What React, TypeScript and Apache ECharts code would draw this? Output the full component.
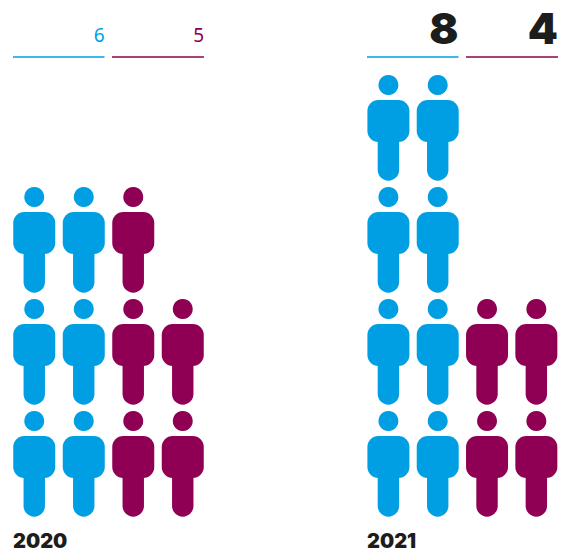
import React, { useEffect, useRef } from "react";
import * as echarts from "echarts";

const years = ["2020", "2021"];
const blueCounts = [6, 8];
const purpleCounts = [5, 4];

const BLUE = "#009fe3";
const PURPLE = "#8f0054";
const INK = "#1d1d1b";
const PANEL_LEFT = [9.5, 363.75];
const SLOT_W = 49.5;
const SLOT_H = 112;
const COLS = 4;
const ROWS = 4;
const BOTTOM_Y = 520;

type Cell = [number, number];
function cells(count: number, firstCol: number): Cell[] {
  const out: Cell[] = [];
  for (let i = 0; i < count; i++) {
    out.push([firstCol + (i % 2) + 0.5, Math.floor(i / 2) + 0.5]);
  }
  return out;
}

function person(color: string) {
  return (_: any, api: any) => {
    const [cx, cy] = api.coord([api.value(0), api.value(1)]);
    return {
      type: "group",
      x: cx,
      y: cy,
      children: [
        { type: "circle", shape: { cx: 0, cy: -43, r: 10 }, style: { fill: color } },
        { type: "rect", shape: { x: -21, y: -28, width: 42, height: 42, r: 11 }, style: { fill: color } },
        {
          type: "rect",
          shape: { x: -10.7, y: 0, width: 21.4, height: 52.7, r: [0, 0, 10.7, 10.7] },
          style: { fill: color },
        },
      ],
    };
  };
}

function App() {
  const ref = useRef<HTMLDivElement>(null);
  useEffect(() => {
    const chart = echarts.init(ref.current!, undefined, { renderer: "svg" });
    const grid = PANEL_LEFT.map((left) => ({
      left,
      top: BOTTOM_Y - ROWS * SLOT_H,
      width: COLS * SLOT_W,
      height: ROWS * SLOT_H,
    }));
    const axisBase = { type: "value" as const, min: 0, show: false };
    const series: any[] = [];
    years.forEach((y, i) => {
      series.push({
        type: "custom",
        name: `${y} blue`,
        xAxisIndex: i,
        yAxisIndex: i,
        renderItem: person(BLUE),
        data: cells(blueCounts[i], 0),
        clip: false,
      });
      series.push({
        type: "custom",
        name: `${y} purple`,
        xAxisIndex: i,
        yAxisIndex: i,
        renderItem: person(PURPLE),
        data: cells(purpleCounts[i], 2),
        clip: false,
      });
    });
    const graphic: any[] = [];
    const rule = (x1: number, x2: number, stroke: string) => ({
      type: "line",
      shape: { x1, y1: 57, x2, y2: 57 },
      style: { stroke, lineWidth: 1.4 },
    });
    const num = (x: number, value: number, i: number, color: string) =>
      i === 0
        ? {
            type: "text",
            x,
            y: 35,
            style: {
              text: String(value),
              fill: color,
              align: "right",
              verticalAlign: "middle",
              font: '400 19px "Noto Sans"',
            },
          }
        : {
            type: "text",
            x,
            y: 28,
            style: {
              text: String(value),
              fill: INK,
              align: "right",
              verticalAlign: "middle",
              font: '900 43px "Inter"',
            },
          };
    const offs = [13, 367];
    years.forEach((y, i) => {
      const l = offs[i];
      graphic.push(rule(l, l + 91.5, BLUE), rule(l + 99, l + 191, PURPLE));
      graphic.push(num(l + 91.5, blueCounts[i], i, BLUE), num(l + 191, purpleCounts[i], i, PURPLE));
      graphic.push({
        type: "text",
        x: l,
        y: 541,
        style: {
          text: y,
          fill: INK,
          align: "left",
          verticalAlign: "middle",
          font: '900 20px "Inter"',
        },
      });
    });
    chart.setOption({
      animation: false,
      backgroundColor: "#ffffff",
      grid,
      xAxis: years.map((_, i) => ({ ...axisBase, max: COLS, gridIndex: i })),
      yAxis: years.map((_, i) => ({ ...axisBase, max: ROWS, gridIndex: i })),
      series,
      graphic,
    });
    return () => chart.dispose();
  }, []);
  return (
    <div
      ref={ref}
      style={{ position: "fixed", left: 0, top: 0, width: 561, height: 555 }}
    />
  );
}

export default App;
